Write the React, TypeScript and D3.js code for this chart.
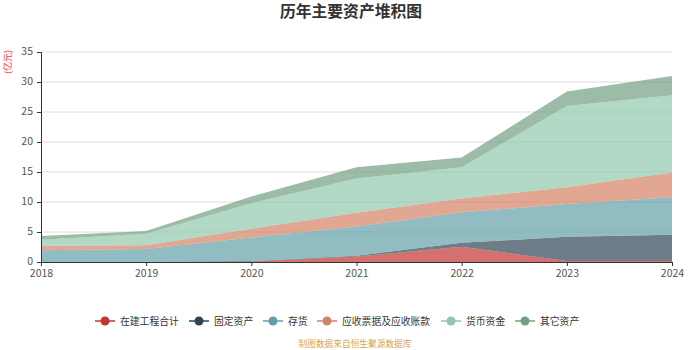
import * as d3 from 'd3'
import { useEffect, useRef } from 'react'

const years = ['2018', '2019', '2020', '2021', '2022', '2023', '2024']
const seriesNames = ['在建工程合计', '固定资产', '存货', '应收票据及应收账款', '货币资金', '其它资产']
const zaijian = [0, 0, 0.05, 0.9, 2.55, 0.15, 0.15]
const guding = [0.05, 0.05, 0.1, 0.15, 0.65, 4.05, 4.4]
const cunhuo = [1.9, 2.1, 3.95, 4.85, 5.1, 5.45, 6.25]
const yingshou = [0.75, 0.65, 1.45, 2.3, 2.3, 2.8, 4.1]
const huobi = [1.0, 1.9, 4.25, 5.7, 5.2, 13.55, 12.9]
const qita = [0.65, 0.45, 1.1, 1.9, 1.6, 2.4, 3.2]
const yTicks = [0, 5, 10, 15, 20, 25, 30, 35]
const colors = ['#c23531', '#2f4554', '#61a0a8', '#d48265', '#91c7ae', '#749f83']

function drawChart(svgEl: SVGSVGElement) {
    const svg = d3.select(svgEl)
    svg.selectAll('*').remove()

    const left = 41, right = 672, top = 52, bottom = 262
    const font = '"Microsoft YaHei", "Noto Sans CJK SC", sans-serif'

    const x = d3.scalePoint<string>().domain(years).range([left, right])
    const y = d3.scaleLinear().domain([0, 35]).range([bottom, top])

    // 网格线
    svg.append('g').selectAll('line').data(yTicks.slice(1)).enter().append('line')
        .attr('x1', left).attr('x2', right)
        .attr('y1', d => y(d)).attr('y2', d => y(d))
        .attr('stroke', '#dcdcdc').attr('stroke-width', 1)

    // 堆积数据
    const allSeries = [zaijian, guding, cunhuo, yingshou, huobi, qita]
    const table = years.map((yr, i) => {
        const row: any = { year: yr }
        seriesNames.forEach((n, k) => { row[n] = allSeries[k][i] })
        return row
    })
    const stacked = d3.stack().keys(seriesNames)(table)

    const area = d3.area<any>()
        .x(d => x(d.data.year) as number)
        .y0(d => y(d[0]))
        .y1(d => y(d[1]))

    svg.append('g').selectAll('path').data(stacked).enter().append('path')
        .attr('d', area)
        .attr('fill', (d, i) => colors[i])
        .attr('fill-opacity', 0.7)

    // y 轴
    const gy = svg.append('g').attr('transform', `translate(${left},0)`)
        .call(d3.axisLeft(y).tickValues(yTicks).tickSize(4).tickPadding(4))
    gy.select('.domain').attr('stroke', '#333')
    gy.selectAll('line').attr('stroke', '#333')
    gy.selectAll('text').attr('fill', '#555').attr('font-size', 10.5).attr('font-family', font)
        .attr('dy', '0.25em')

    // x 轴
    const gx = svg.append('g').attr('transform', `translate(0,${bottom})`)
        .call(d3.axisBottom(x).tickSize(4).tickPadding(4))
    gx.select('.domain').attr('stroke', '#333')
    gx.selectAll('line').attr('stroke', '#333')
    gx.selectAll('text').attr('fill', '#555').attr('font-size', 10.5).attr('font-family', font)

    // 标题
    svg.append('text').attr('x', 351).attr('y', 17)
        .attr('text-anchor', 'middle').attr('font-size', 15.8).attr('font-weight', 'bold')
        .attr('font-family', font).attr('fill', '#333')
        .text('历年主要资产堆积图')

    // 单位
    svg.append('text').attr('transform', 'translate(11,62) rotate(-90)')
        .attr('text-anchor', 'middle').attr('font-size', 9).attr('font-family', font)
        .attr('fill', '#ff3333')
        .text('(亿元)')

    // 图例
    const fs = 9.8
    const step = 10
    let cx = 95
    seriesNames.forEach((name, i) => {
        const g = svg.append('g').attr('transform', `translate(${cx},321)`)
        g.append('line').attr('x1', 0).attr('x2', 20).attr('y1', 0).attr('y2', 0)
            .attr('stroke', colors[i]).attr('stroke-width', 1.5)
        g.append('circle').attr('cx', 10).attr('cy', 0).attr('r', 4.5).attr('fill', colors[i])
        g.append('text').attr('x', 25).attr('y', 3.6)
            .attr('font-size', fs).attr('font-family', font).attr('fill', '#333')
            .text(name)
        cx += 25 + name.length * step + 9
    })

    // 来源
    svg.append('text').attr('x', 355).attr('y', 347)
        .attr('text-anchor', 'middle').attr('font-size', 8.7).attr('font-family', font)
        .attr('fill', '#d9a448')
        .text('制图数据来自恒生聚源数据库')
}

function App() {
    const ref = useRef<SVGSVGElement>(null)
    useEffect(() => {
        if (ref.current) drawChart(ref.current)
    })
    return (
        <svg ref={ref} width={700} height={350}
            style={{ position: 'absolute', left: 0, top: 0, background: '#fff' }}>
        </svg>
    )
}

export default App
